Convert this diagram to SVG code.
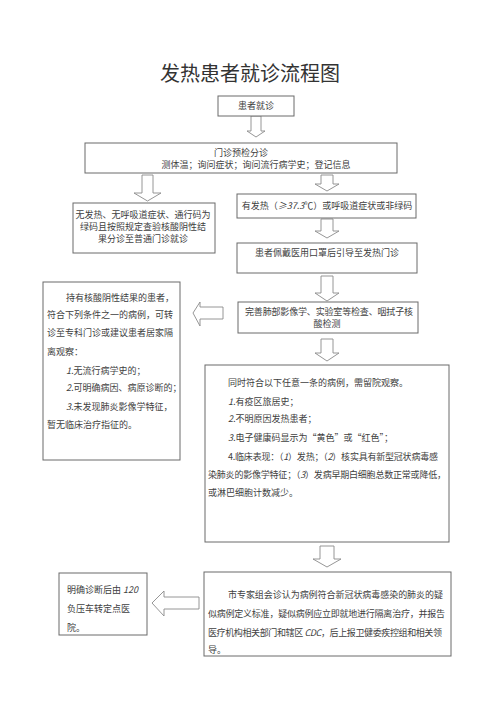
<svg xmlns="http://www.w3.org/2000/svg" width="500" height="707" viewBox="0 0 500 707">
<style>
text{font-family:"Noto Sans CJK SC","Noto Sans",sans-serif;font-size:9px;fill:#404040}
.t{font-size:20px;fill:#333}
.c{text-anchor:middle}
.i{font-style:italic}
.box{fill:#fff;stroke:#6a6a6a;stroke-width:1}
.arr{fill:#fff;stroke:#8a8a8a;stroke-width:0.9;stroke-linejoin:miter}
</style>
<rect width="500" height="707" fill="#fff"/>
<text class="t c" x="250" y="81">发热患者就诊流程图</text>
<g id="connectors">
<polygon class="arr" points="251,116 261,116 261,131 265,131 256,137 247,131 251,131"/>
<polygon class="arr" points="142,175 153,175 153,193 161,193 147.5,201 134,193 142,193"/>
<polygon class="arr" points="321,175 333,175 333,184 339,184 327,191 315,184 321,184"/>
<polygon class="arr" points="321,219 333,219 333,231 339,231 327,238 315,231 321,231"/>
<polygon class="arr" points="321,276 333,276 333,293 339,293 327,301 315,293 321,293"/>
<polygon class="arr" points="321,339 333,339 333,353 339,353 327,361 315,353 321,353"/>
<polygon class="arr" points="320,546 334,546 334,559 341,559 327,567 313,559 320,559"/>
<polygon class="arr" points="223,307 223,319 200,319 200,326 193,313 200,302 200,307"/>
<polygon class="arr" points="199,597 199,609 164,609 164,616 152,603 164,591 164,597"/>
</g>
<g id="n1">
<rect class="box" x="218" y="96" width="76" height="20"/>
<text class="c" x="256" y="109">患者就诊</text>
</g>
<g id="n2">
<rect class="box" x="85" y="143" width="312" height="30"/>
<text class="c" x="241" y="156">门诊预检分诊</text>
<text class="c" x="256" y="168">测体温；询问症状；询问流行病学史；登记信息</text>
</g>
<g id="n3">
<rect class="box" x="73" y="203" width="142" height="50"/>
<text class="c" x="143" y="218">无发热、无呼吸道症状、通行码为</text>
<text class="c" x="143" y="230">绿码且按照规定查验核酸阴性结</text>
<text class="c" x="143" y="242">果分诊至普通门诊就诊</text>
</g>
<g id="n4">
<rect class="box" x="237" y="194" width="179" height="24"/>
<text class="c" x="327" y="209">有发热（<tspan class="i">≥37.3</tspan>℃）或呼吸道症状或非绿码</text>
</g>
<g id="n5">
<rect class="box" x="237" y="243" width="180" height="30"/>
<text class="c" x="327" y="256">患者佩戴医用口罩后引导至发热门诊</text>
</g>
<g id="n6">
<rect class="box" x="238" y="302" width="180" height="31"/>
<text x="245" y="315" textLength="168" lengthAdjust="spacing">完善肺部影像学、实验室等检查、咽拭子核</text>
<text class="c" x="327" y="327">酸检测</text>
</g>
<g id="n7">
<rect class="box" x="43" y="282" width="137" height="178"/>
<text x="66" y="301">持有核酸阴性结果的患者，</text>
<text x="47" y="318" textLength="126" lengthAdjust="spacing">符合下列条件之一的病例，可转</text>
<text x="47" y="336" textLength="126" lengthAdjust="spacing">诊至专科门诊或建议患者居家隔</text>
<text x="47" y="355">离观察：</text>
<text x="66" y="374"><tspan class="i">1.</tspan>无流行病学史的；</text>
<text x="66" y="391"><tspan class="i">2.</tspan>可明确病因、病原诊断的；</text>
<text x="66" y="410"><tspan class="i">3.</tspan>未发现肺炎影像学特征，</text>
<text x="47" y="428">暂无临床治疗指征的。</text>
</g>
<g id="n8">
<rect class="box" x="205" y="365" width="244" height="177"/>
<text x="228" y="386">同时符合以下任意一条的病例，需留院观察。</text>
<text x="228" y="405"><tspan class="i">1.</tspan>有疫区旅居史；</text>
<text x="228" y="422"><tspan class="i">2.</tspan>不明原因发热患者；</text>
<text x="228" y="441"><tspan class="i">3.</tspan>电子健康码显示为“黄色”或“红色”；</text>
<text x="228" y="460" textLength="210" lengthAdjust="spacing">4.临床表现：（<tspan class="i">1</tspan>）发热；（<tspan class="i">2</tspan>）核实具有新型冠状病毒感</text>
<text x="208" y="478" textLength="238" lengthAdjust="spacing">染肺炎的影像学特征；（<tspan class="i">3</tspan>）发病早期白细胞总数正常或降低，</text>
<text x="208" y="496">或淋巴细胞计数减少。</text>
</g>
<g id="n9">
<rect class="box" x="204" y="572" width="247" height="84"/>
<text x="228" y="598" textLength="215" lengthAdjust="spacing">市专家组会诊认为病例符合新冠状病毒感染的肺炎的疑</text>
<text x="208" y="617" textLength="237" lengthAdjust="spacing">似病例定义标准，疑似病例应立即就地进行隔离治疗，并报告</text>
<text x="208" y="636" textLength="234" lengthAdjust="spacing">医疗机构相关部门和辖区 <tspan class="i">CDC</tspan>，后上报卫健委疾控组和相关领</text>
<text x="208" y="653">导。</text>
</g>
<g id="n10">
<rect class="box" x="59" y="573" width="88" height="62"/>
<text x="67" y="593">明确诊断后由 <tspan class="i">120</tspan></text>
<text x="67" y="612">负压车转定点医</text>
<text x="67" y="631">院。</text>
</g>
</svg>
